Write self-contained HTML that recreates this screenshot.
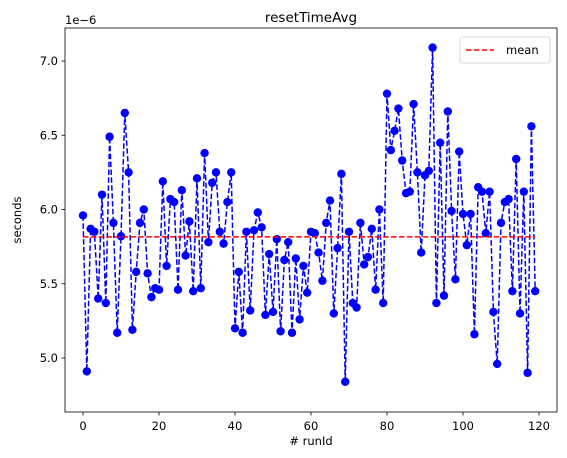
<!DOCTYPE html>
<html><head><meta charset="utf-8"><style>
body{margin:0;background:#fff;font-family:"Liberation Sans","DejaVu Sans",sans-serif}
svg text{font-family:"DejaVu Sans","Liberation Sans",sans-serif;fill:#000}
</style></head><body>
<svg id="chart" width="567" height="453" xmlns="http://www.w3.org/2000/svg">
<rect x="0" y="0" width="567" height="453" fill="#fff"/>
<g id="plot"></g>
</svg>
<script>
const values=[5.96,4.91,5.87,5.85,5.40,6.10,5.37,6.49,5.91,5.17,5.82,6.65,6.25,5.19,5.58,5.91,6.00,5.57,5.41,5.47,5.46,6.19,5.62,6.07,6.05,5.46,6.13,5.69,5.92,5.45,6.21,5.47,6.38,5.78,6.18,6.25,5.85,5.77,6.05,6.25,5.20,5.58,5.17,5.85,5.32,5.86,5.98,5.88,5.29,5.70,5.31,5.80,5.18,5.66,5.78,5.17,5.67,5.26,5.62,5.44,5.85,5.84,5.71,5.52,5.91,6.06,5.30,5.74,6.24,4.84,5.85,5.37,5.34,5.91,5.63,5.68,5.87,5.46,6.00,5.37,6.78,6.40,6.53,6.68,6.33,6.11,6.12,6.71,6.25,5.71,6.23,6.26,7.09,5.37,6.45,5.42,6.66,5.99,5.53,6.39,5.97,5.76,5.97,5.16,6.15,6.12,5.84,6.12,5.31,4.96,5.91,6.05,6.07,5.45,6.34,5.30,6.12,4.90,6.56,5.45];
const xTicks=[0,20,40,60,80,100,120];
const yTicks=[5.0,5.5,6.0,6.5,7.0];
const yTickLabels=["5.0","5.5","6.0","6.5","7.0"];
const L=65,R=557,T=28,B=412;
const X=v=>83+(v)*3.8;
const Y=v=>358-(v-5.0)*148.5;
const g=document.getElementById('plot');
const NS='http://www.w3.org/2000/svg';
function el(t,a,p){const e=document.createElementNS(NS,t);for(const k in a)e.setAttribute(k,a[k]);(p||g).appendChild(e);return e;}
let d=values.map((v,i)=>(i?'L':'M')+X(i).toFixed(1)+','+Y(v).toFixed(1)).join(' ');
const line=el('path',{d:d,fill:'none',stroke:'#0000ff','stroke-width':1.5,'stroke-dasharray':'5.5,2.4'});


values.forEach((v,i)=>{const c=el('circle',{cx:X(i),cy:Y(v),r:4.2,fill:'#0000ff'});

});
const mean=values.reduce((a,b)=>a+b,0)/values.length;
const ml=el('line',{x1:X(0),x2:X(values.length-1),y1:Y(mean),y2:Y(mean),stroke:'#ff0000','stroke-width':1.5,'stroke-dasharray':'5.5,2.4'});


const fr=el('rect',{x:L,y:T,width:R-L,height:B-T,fill:'none',stroke:'#000','stroke-width':0.8});


xTicks.forEach(t=>{el('line',{x1:X(t),x2:X(t),y1:B,y2:B+3.5,stroke:'#000','stroke-width':0.8});
const tx=el('text',{x:X(t),y:B+18,'text-anchor':'middle','font-size':11.5});tx.textContent=t;

});
yTicks.forEach((t,i)=>{el('line',{x1:L-3.5,x2:L,y1:Y(t),y2:Y(t),stroke:'#000','stroke-width':0.8});
const tx=el('text',{x:L-7,y:Y(t)+4,'text-anchor':'end','font-size':11.5});tx.textContent=yTickLabels[i];

});
function txt(s,a,name){const t=el('text',a);t.textContent=s;

return t;}
txt('resetTimeAvg',{x:311,y:22,'text-anchor':'middle','font-size':13.5},'chart-title');
txt('1e\u22126',{x:65,y:24,'font-size':11.5},'y-offset-label');
txt('# runId',{x:311,y:445,'text-anchor':'middle','font-size':11.5},'x-axis-title');
txt('seconds',{x:21,y:220,'text-anchor':'middle','font-size':11.5,transform:'rotate(-90 21 220)'},'y-axis-title');
const lg=el('g',{});


el('rect',{x:460,y:37,width:90,height:26,rx:2,fill:'#fff',stroke:'#ccc','stroke-width':0.8},lg);
el('line',{x1:466,x2:494,y1:50,y2:50,stroke:'#ff0000','stroke-width':1.5,'stroke-dasharray':'5.5,2.4'},lg);
const le=el('text',{x:506,y:54,'font-size':11.5},lg);le.textContent='mean';


</script>
</body></html>
